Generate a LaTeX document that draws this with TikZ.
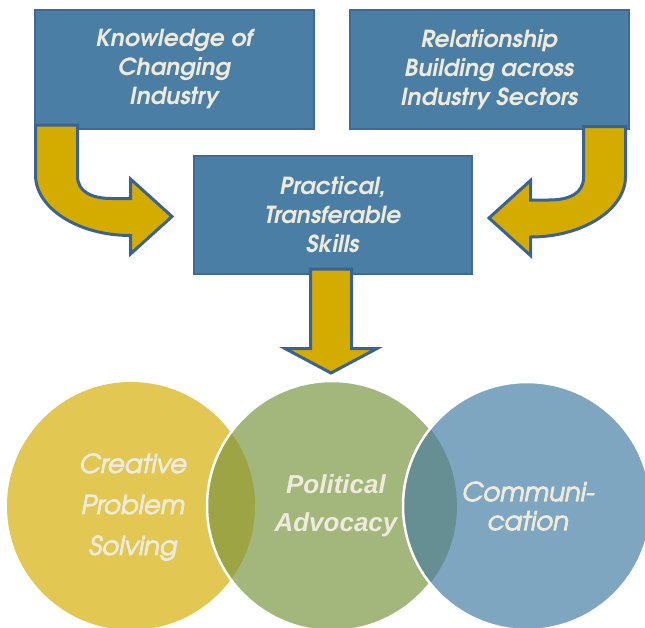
\documentclass[tikz,border=0pt]{standalone}
\usepackage{fontspec}
\setmainfont{texgyreadventor}[Extension=.otf, UprightFont=*-regular, BoldFont=*-bold, ItalicFont=*-italic, BoldItalicFont=*-bolditalic]
\newfontfamily\circfont{texgyreadventor}[Extension=.otf, UprightFont=*-italic, FakeBold=3]
\newfontfamily\arialfont{Liberation Sans}
\definecolor{boxblue}{HTML}{4A7EA5}
\definecolor{boxedge}{HTML}{3D6A98}
\definecolor{gold}{HTML}{D4AC00}
\definecolor{arrowedge}{HTML}{3A6294}
\definecolor{cyel}{HTML}{E2C853}
\definecolor{cgreen}{HTML}{A3B67B}
\definecolor{cblue}{HTML}{7FA6C1}
\definecolor{colive}{HTML}{9CA443}
\definecolor{cteal}{HTML}{668F94}
\definecolor{cream}{HTML}{EEEADC}
\begin{document}
\begin{tikzpicture}[x=1pt,y=-1pt,
  box/.style={draw=boxedge, line width=1.5pt, fill=boxblue, text=cream, align=center,
    font=\bfseries\itshape\fontsize{23.5}{29}\selectfont, anchor=north west, inner sep=0pt},
  bigarrow/.style={fill=gold, draw=arrowedge, line width=3pt, line join=miter},
  ctext/.style={text=cream, align=center, font=\circfont\fontsize{26}{41}\selectfont},
  ring/.style={draw=white, line width=2.5pt}]
\useasboundingbox (0,0) rectangle (645,627);
% boxes
\node[box, minimum width=279pt, minimum height=119pt] (k) at (34,9) {Knowledge of\\Changing\\Industry};
\node[box, minimum width=279pt, minimum height=119pt] (r) at (349,9) {Relationship\\Building across\\Industry Sectors};
\node[box, minimum width=278pt, minimum height=118pt] (p) at (193,155) {Practical,\\Transferable\\Skills};
% left bent arrow
\path[bigarrow] (35.5,125) -- (77.5,125) -- (77.5,176)
  .. controls (77.5,192) and (92,198.5) .. (112,198.5) -- (130.5,198.5) -- (130.5,179)
  -- (172,216.5) -- (130.5,254) -- (130.5,235.5)
  .. controls (78,235.5) and (35.5,208) .. (35.5,175) -- cycle;
% right bent arrow (mirror)
\begin{scope}[xshift=661pt, xscale=-1, yshift=-1.5pt]
\path[bigarrow] (35.5,125) -- (77.5,125) -- (77.5,176)
  .. controls (77.5,192) and (92,198.5) .. (112,198.5) -- (130.5,198.5) -- (130.5,179)
  -- (172,216.5) -- (130.5,254) -- (130.5,235.5)
  .. controls (78,235.5) and (35.5,208) .. (35.5,175) -- cycle;
\end{scope}
% down arrow
\path[bigarrow] (310.5,269) -- (351.5,269) -- (351.5,348.5) -- (377,348.5) -- (331,373)
  -- (285,348.5) -- (310.5,348.5) -- cycle;
% circles
\fill[cyel] (131,506) circle[radius=124pt];
\fill[cgreen] (332,506) circle[radius=125pt];
\begin{scope}
  \clip (131,506) circle[radius=124pt];
  \fill[colive] (332,506) circle[radius=125pt];
\end{scope}
\draw[ring] (332,506) circle[radius=125pt];
\fill[cblue] (527,506) circle[radius=124pt];
\begin{scope}
  \clip (332,506) circle[radius=125pt];
  \fill[cteal] (527,506) circle[radius=124pt];
\end{scope}
\draw[ring] (527,506) circle[radius=124pt];
% circle texts
\node[ctext] (cps) at (133,507) {Creative\\Problem\\Solving};
\node[ctext, font=\arialfont\bfseries\itshape\fontsize{26}{38}\selectfont] (pa) at (336,506) {Political\\Advocacy};
\node[ctext, font=\circfont\fontsize{26}{29}\selectfont] (com) at (528,506) {Communi-\\cation};
\end{tikzpicture}
\end{document}
